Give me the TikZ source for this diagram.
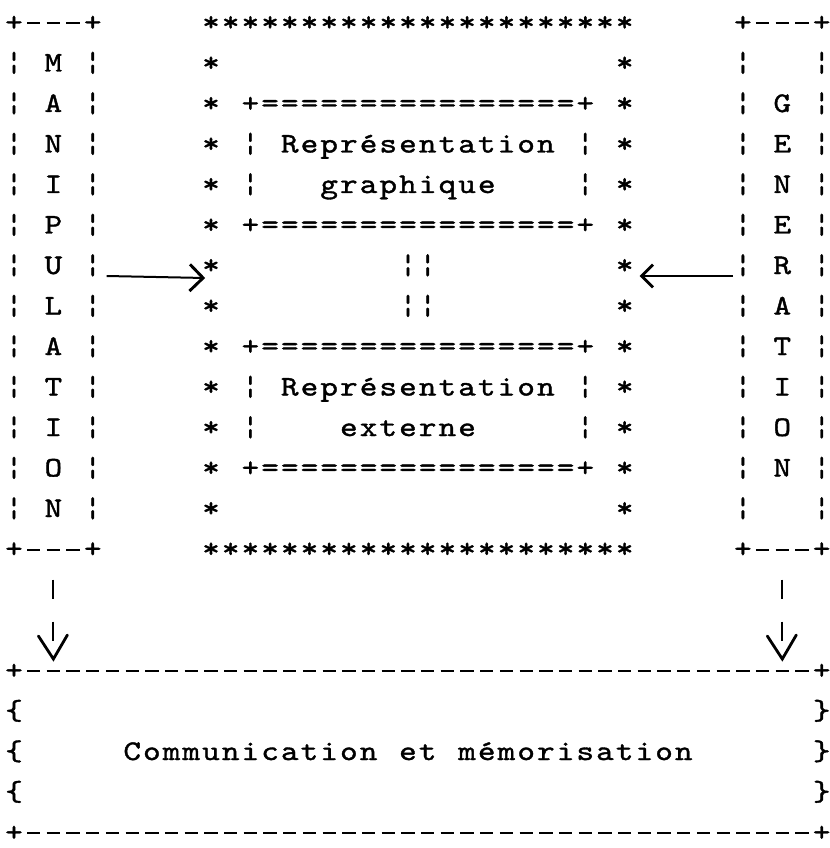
\documentclass[tikz,border=0pt]{standalone}
\usepackage{fontspec}
\usetikzlibrary{calc,arrows.meta}

% typewriter face: Latin Modern Mono, widened and thickened a little
\newfontfamily\tw{lmmono10-regular.otf}[FakeBold=1.3,FakeStretch=1.18]

% typewriter grid: one cell is 19.7 units wide, one line 40.5 units high
\newdimen\cw \cw=14.775pt
\newcommand\dsh{\rule[5.0pt]{10pt}{1.4pt}}
\newcommand\spread[1]{\spreadi#1\relax}
\def\spreadi#1{\ifx\relax#1\else\makebox[\cw][c]{#1}\expandafter\spreadi\fi}

\begin{document}
\begin{tikzpicture}[x=0.75pt,y=-0.75pt,
  txt/.style={anchor=base west,inner sep=0pt,outer sep=0pt,
    font=\tw\fontsize{21.3}{25}\selectfont},
  shaft/.style={line width=1.5pt},
  vlink/.style={line width=1.6pt,dash pattern=on 14.5pt off 17pt},
  vtip/.style={line width=2.1pt,line cap=round,line join=miter}]

\fill[white] (0,0) rectangle (830,848);
\useasboundingbox (0,0) rectangle (830,848);

% text on the grid: name, column, line, characters (~ = blank cell)
\newcommand\rowtxt[4]{\node[txt] (#1) at ({4.15+19.7*#2},{31+40.5*(#3-1)}) {\spread{#4}};}
% corner, n fill characters, corner
\newcommand\rowrep[6]{\node[txt] (#1) at ({4.15+19.7*#2},{31+40.5*(#3-1)})
  {\makebox[\cw][c]{#6}\foreach \k in {1,...,#4}{\makebox[\cw][c]{#5}}\makebox[\cw][c]{#6}};}

% MANIPULATION column
\rowrep{lt}{0}{1}{3}{\dsh}{+}
\foreach \c [count=\i from 2] in {M,A,N,I,P,U,L,A,T,I,O,N}
  {\rowtxt{l\i}{0}{\i}{¦~\c~¦}}
\rowrep{lb}{0}{14}{3}{\dsh}{+}

% GENERATION column
\rowrep{rt}{37}{1}{3}{\dsh}{+}
\rowtxt{r2}{37}{2}{¦~~~¦}
\foreach \c [count=\i from 3] in {G,E,N,E,R,A,T,I,O,N}
  {\rowtxt{r\i}{37}{\i}{¦~\c~¦}}
\rowtxt{r13}{37}{13}{¦~~~¦}
\rowrep{rb}{37}{14}{3}{\dsh}{+}

% frame of stars
\rowrep{st}{10}{1}{20}{*}{*}
\foreach \i in {2,...,13}{
  \rowtxt{sl\i}{10}{\i}{*}
  \rowtxt{sr\i}{31}{\i}{*}}
\rowrep{sb}{10}{14}{20}{*}{*}

% upper inner box
\rowrep{gt}{12}{3}{16}{=}{+}
\rowtxt{g1}{12}{4}{¦~Représentation~¦}
\rowtxt{g2}{12}{5}{¦~~~graphique~~~~¦}
\rowrep{gb}{12}{6}{16}{=}{+}

% double bar between the inner boxes
\rowtxt{m1}{20}{7}{¦¦}
\rowtxt{m2}{20}{8}{¦¦}

% lower inner box
\rowrep{et}{12}{9}{16}{=}{+}
\rowtxt{e1}{12}{10}{¦~Représentation~¦}
\rowtxt{e2}{12}{11}{¦~~~~externe~~~~~¦}
\rowrep{eb}{12}{12}{16}{=}{+}

% bottom box
\rowrep{bt}{0}{17}{40}{\dsh}{+}
\rowtxt{b1l}{0}{18}{\{}
\rowtxt{b1r}{41}{18}{\}}
\rowtxt{b2l}{0}{19}{\{}
\rowtxt{cm}{6}{19}{Communication~et~mémorisation}
\rowtxt{b2r}{41}{19}{\}}
\rowtxt{b3l}{0}{20}{\{}
\rowtxt{b3r}{41}{20}{\}}
\rowrep{bb}{0}{21}{40}{\dsh}{+}

% side columns feed the star frame
\draw[shaft,-{Straight Barb[length=10pt,width=20pt,line width=2.2pt]}]
  ($(l7.base east)+(4,2)$) -- ($(sl7.base west)+(4,4)$);
\draw[shaft,-{Straight Barb[length=8.5pt,width=17pt,line width=2.2pt]}]
  ($(r7.base west)+(0,2)$) -- ($(sr7.base east)+(5,2)$);

% side columns feed the bottom box
\coordinate (la) at ($(lb.base west)+(49.25,22)$);
\coordinate (ra) at ($(rb.base west)+(49.25,22)$);
\coordinate (bend) at ($(bt.base west)+(0,-38)$);
\coordinate (btip) at ($(bt.base west)+(0,-20)$);
\coordinate (barm) at ($(bt.base west)+(0,-43)$);
\foreach \s in {la,ra}{
  \draw[vlink] (\s) -- (\s |- bend);
  \draw[vtip] ($(\s |- barm)+(-15,0)$) -- (\s |- btip) -- ($(\s |- barm)+(14,-1)$);
}
\end{tikzpicture}
\end{document}
